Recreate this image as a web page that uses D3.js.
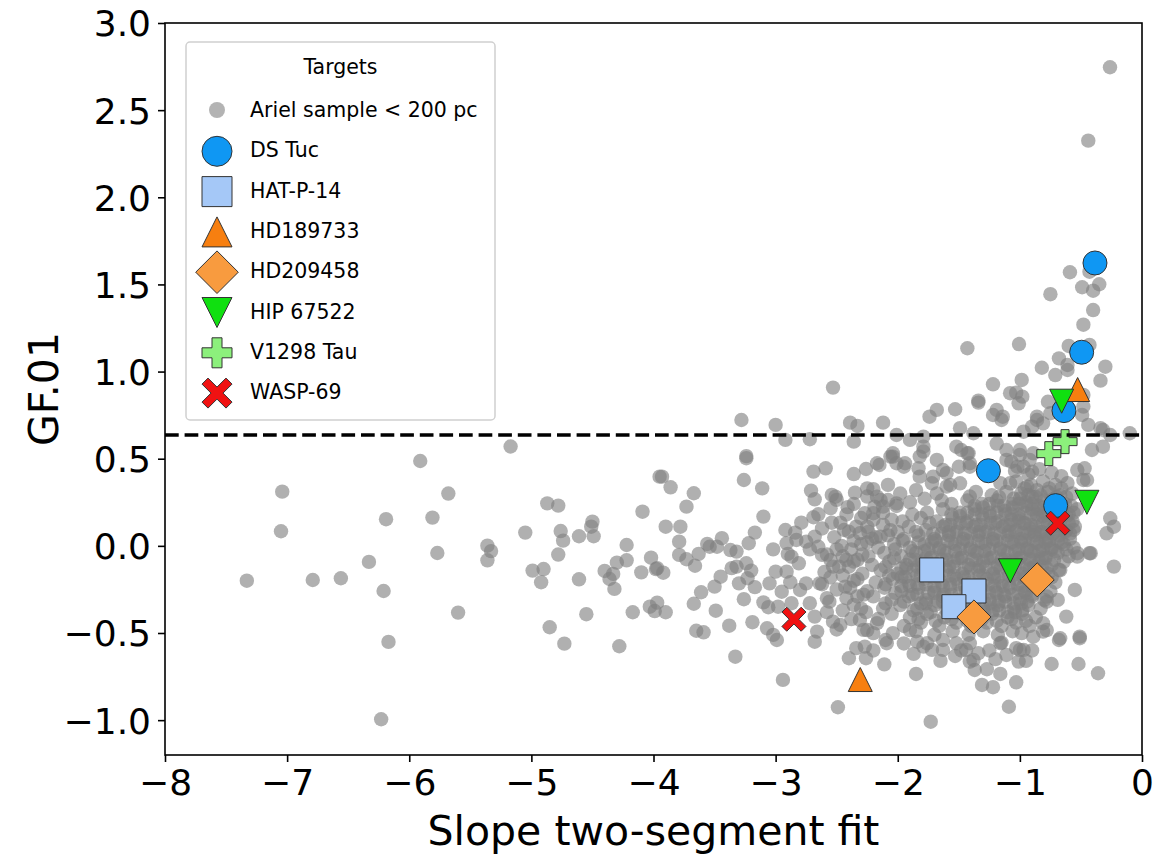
<!DOCTYPE html>
<html><head><meta charset="utf-8">
<script src="https://cdn.jsdelivr.net/npm/d3@7"></script>
<style>body{margin:0;background:#fff}</style>
</head><body><svg id="chart" width="1158" height="855"></svg>
<script>
// ---------- data ----------
const xTicks = [-8, -7, -6, -5, -4, -3, -2, -1, 0];
const yTicks = [-1.0, -0.5, 0.0, 0.5, 1.0, 1.5, 2.0, 2.5, 3.0];
const threshold = 0.636;
const xLabel = "Slope two-segment fit";
const yLabel = "GF.01";
const legendTitle = "Targets";
const sampleName = "Ariel sample < 200 pc";

// scattered Ariel sample (slope, GF.01)
const arielScattered = [
[-5.17,0.57],[-5.91,0.487],[-7.04,0.311],[-5.68,0.30],[-6.19,0.153],[-5.81,0.162],[-7.05,0.084],[-5.77,-0.041],[-6.33,-0.092],[-7.33,-0.20],[-6.79,-0.196],[-6.56,-0.186],[-6.21,-0.259],[-5.60,-0.383],[-6.17,-0.551],[-6.23,-0.995],[-5.05,0.076],[-5.36,0.001],[-5.33,-0.03],[-5.36,-0.083],[-4.87,0.244],[-4.78,0.231],[-4.76,0.085],[-4.74,0.03],[-4.78,-0.05],[-4.99,-0.142],[-4.90,-0.133],[-4.92,-0.209],[-4.50,0.139],[-4.51,0.11],[-4.49,0.055],[-4.61,0.055],[-4.61,-0.192],[-4.85,-0.467],[-4.73,-0.561],[-4.55,-0.392],[-4.40,-0.144],[-4.33,-0.161],[-4.36,-0.19],[-4.32,-0.247],[-4.30,-0.096],[-4.22,0.005],[-4.22,-0.083],[-4.09,0.196],[-4.02,-0.068],[-4.10,-0.152],[-3.98,-0.133],[-4.17,-0.381],[-4.28,-0.576],[-4.03,-0.349],[-3.99,-0.374],[-3.97,-0.326],[-3.95,0.397],
[-3.90,-0.381],[-3.67,-0.332],[-3.61,-0.266],[-3.50,-0.234],[-3.45,-0.177],[-3.49,-0.372],[-3.65,-0.487],[-3.59,-0.496],[-3.38,-0.458],[-3.33,-0.636],[-3.26,-0.306],[-3.30,-0.215],[-3.23,-0.186],[-3.17,-0.237],[-3.19,-0.438],[-3.10,-0.324],[-3.05,-0.215],[-3.06,-0.352],[-2.98,-0.349],[-2.95,-0.263],[-2.88,-0.209],[-2.87,-0.329],[-3.07,-0.473],[-3.02,-0.511],[-2.99,-0.54],[-2.94,-0.769],[-2.80,-0.253],[-2.75,-0.215],[-2.72,-0.329],[-2.68,-0.406],[-2.66,-0.492],[-2.68,-0.55],[-2.64,-0.215],[-2.56,-0.32],[-2.53,-0.435],[-2.47,-0.454],[-2.49,-0.926],[-2.43,-0.234],[-2.36,-0.339],[-2.31,-0.425],[-2.34,-0.587],[-2.27,-0.578],[-2.40,-0.645],[-2.26,-0.645],[-2.11,-0.68],[-2.28,-0.482],[-2.20,-0.501],[-2.17,-0.444],
[-3.28,0.722],[-3.00,0.694],[-2.92,0.608],[-2.72,0.612],[-2.39,0.707],[-2.33,0.688],[-2.12,0.707],[-2.36,0.598],[-3.24,0.515],[-3.24,0.503],[-3.26,0.378],[-3.11,0.33],[-3.10,0.168],[-3.93,0.397],[-3.86,0.336],[-3.67,0.302],[-3.73,0.225],[-3.90,0.11],[-3.78,0.11],[-3.79,0.024],[-3.79,-0.052],[-3.73,-0.077],[-3.97,-0.128],[-3.92,-0.154],[-3.66,-0.114],[-3.63,-0.046],[-3.56,0.011],[-3.54,-0.005],[-3.44,0.044],[-3.48,-0.005],[-3.37,-0.024],[-3.32,-0.033],[-3.36,-0.128],[-3.32,-0.119],[-3.24,-0.100],[-3.20,-0.142],[-3.22,0.015],[-3.17,0.076],[-3.02,-0.02],[-2.92,0.091],[-2.91,0.015],[-2.90,-0.046],[-2.87,-0.062],[-2.81,-0.1],[-3.0,-0.148],[-2.91,-0.148],[-2.84,0.076],[-2.79,0.133],[-2.83,0.034],[-2.75,0.024],[-2.68,0.053],[-2.72,-0.02],[-2.65,-0.005],[-2.62,-0.052],[-2.55,-0.081],[-2.53,-0.119],[-2.71,0.317],[-2.68,0.267],[-2.69,0.164],[-2.65,0.181],[-2.69,0.426],[-2.59,0.445],[-2.54,0.292],[-2.51,0.282],[-2.55,0.216],[-2.50,0.264],[-2.41,0.222],[-2.54,0.133],[-2.47,0.133],[-2.44,0.091],[-2.40,0.081],[-2.34,0.110],[-2.31,0.072],[-2.36,0.412],[-2.26,0.441],[-2.15,0.464],[-2.06,0.512],[-2.01,0.474],[-2.35,0.305],[-2.25,0.33],[-2.20,0.325],[-2.17,0.282],[-2.27,0.187],[-2.19,0.225],[-2.14,0.263],[-2.08,0.263],[-2.01,0.229],
[-2.50,-0.02],[-2.45,-0.06],[-2.40,-0.12],[-2.38,-0.02],[-2.33,-0.08],[-2.45,-0.17],[-2.36,-0.2],[-2.5,-0.25],[-2.28,-0.28],[-2.6,-0.15],[-2.58,-0.3],[-2.42,-0.3],[-2.3,-0.36],[-2.2,0.15],[-2.12,0.12],[-2.18,0.05],[-2.25,0.02],
[-2.58,-0.05],[-2.52,0.05],[-2.46,0.0],[-2.42,-0.08],[-2.36,0.03],[-2.29,-0.05],[-2.62,-0.22],[-2.55,-0.18],[-2.48,-0.12],[-2.39,-0.24],[-2.33,-0.29],[-2.45,-0.37],[-2.38,-0.42],[-2.26,-0.38],[-2.16,-0.42],[-2.1,-0.33],[-2.3,0.16],[-2.24,0.08],[-2.42,0.18],[-2.36,0.24],[-2.12,0.19],[-2.05,0.15],[-2.0,0.08],[-2.08,0.35],[-1.98,0.3],[-1.9,0.25],[-1.85,0.32],[-1.78,0.27],[-1.68,0.3],[-1.64,0.26],[-1.88,0.18],[-2.62,0.1],[-2.58,-0.38],[-2.5,-0.48],[-2.2,-0.6],[-2.1,-0.54],[-1.95,-0.56],[-1.87,-0.62],[-1.65,-0.66],[-1.48,-0.6],[-1.25,-0.6],[-1.2,-0.65],[-0.95,-0.66],[-0.9,-0.6],
[-1.68,0.78],[-1.53,0.784],[-1.34,0.822],[-1.19,0.78],[-1.15,0.722],[-1.22,0.751],[-1.74,0.741],[-1.49,0.675],[-1.38,0.646],[-1.01,0.818],[-0.86,0.741],[-0.81,0.703],[-0.34,0.675],[-0.26,0.636],[-0.10,0.646],[-2.04,0.531],[-1.94,0.474],[-1.79,0.541],[-1.83,0.445],[-1.71,0.397],[-1.63,0.435],[-1.57,0.349],[-1.48,0.55],[-1.42,0.531],[-1.41,0.474],[-1.50,0.454],[-1.11,0.55],[-1.07,0.483],[-1.00,0.522],[-0.97,0.454],[-0.92,0.493],[-0.90,0.426],[-0.47,0.445],[-0.48,0.378],[-0.41,0.55],[-0.32,0.569],[-0.26,0.158],[-0.23,0.11],[-0.29,0.072],[-0.43,-0.042],[-0.53,-0.042],[-0.23,-0.119],
[-0.262,2.746],[-0.44,2.325],[-0.59,1.57],[-0.43,1.573],[-0.75,1.444],[-0.49,1.484],[-0.40,1.464],[-0.35,1.501],[-0.40,1.353],[-0.48,1.269],[-1.007,1.158],[-1.43,1.134],[-0.60,1.147],[-0.43,1.153],[-0.30,1.028],[-0.34,0.948],[-0.68,1.076],[-0.61,1.038],[-0.61,1.009],[-0.71,0.98],[-0.82,1.022],[-1.22,0.927],[-0.985,0.952],[-1.08,0.876],[-1.03,0.879],[-0.98,0.856],[-1.34,0.833],[-2.53,0.908],[-0.77,0.827],[-0.48,0.866],[-0.48,0.799],
[-0.75,0.761],[-0.86,0.722],[-0.90,0.684],[-0.97,0.655],[-0.49,0.751],[-0.44,0.694],[-0.32,0.665],[-2.01,0.636],[-1.90,0.608],[-1.79,0.627],[-1.14,0.741],
[-0.55,-0.253],[-0.67,-0.53],[-0.51,-0.53],[-0.74,-0.678],[-0.52,-0.678],[-0.36,-0.731],[-0.81,-0.444],[-0.81,-0.492],[-0.78,-0.32],[-0.69,-0.31],[-0.985,-0.501],[-0.97,-0.597],[-1.03,-0.587],[-1.01,-0.664],[-1.11,-0.626],[-1.15,-0.555],[-1.16,-0.735],[-1.03,-0.783],[-1.09,-0.923],[-1.27,-0.708],[-1.31,-0.798],[-1.22,-0.811],[-1.37,-0.712],[-1.41,-0.664],[-1.38,-0.655],[-1.53,-0.632],[-1.85,-0.735],[-1.73,-1.009],[-1.34,-0.616],[-1.44,-0.597],[-1.52,-0.559],[-1.63,-0.54],[-1.79,-0.578],[-1.72,-0.597],[-1.84,-0.55],[-2.04,-0.501],
[-1.79,0.569],[-1.82,0.512],[-1.68,0.493],[-1.60,0.417],[-1.82,0.397],[-1.95,0.454],[-2.17,0.474],[-2.04,0.512],[-1.72,0.359],[-1.60,0.34],[-1.49,0.359],[-1.41,0.283],[-1.52,0.569],[-1.43,0.531],[-1.41,0.454],[-1.19,0.587],[-1.11,0.493],[-1.02,0.454],[-1.00,0.55],[-0.89,0.531],[-1.08,0.359],[-0.94,0.34],
[-2.25,0.283],[-2.20,0.187],[-2.12,0.225],[-2.01,0.244],[-2.25,0.11],[-2.14,0.053],
[-0.53,0.435],[-0.45,0.378],[-0.56,0.091],[-0.42,-0.042],[-0.53,-0.062],[-0.68,-0.138],[-0.78,-0.291],[-0.62,-0.406],[-0.78,-0.483],[-0.68,-0.54],[-0.51,-0.521],
[-2.25,-0.483],[-2.09,-0.559],[-1.90,-0.483],[-1.76,-0.559],[-1.63,-0.597],[-1.41,-0.559],[-1.16,-0.559],[-1.00,-0.597],[-0.89,-0.521]
];

// dense core of the Ariel sample (estimated; dots overlap heavily)
const arielCore = [
[-1.04,0.43],[-0.93,0.41],[-0.84,0.44],[-0.74,0.42],[-0.66,0.40],
[-1.16,0.36],[-1.03,0.37],[-0.91,0.35],[-0.81,0.37],[-0.71,0.35],[-0.61,0.36],
[-1.36,0.31],[-1.23,0.29],[-1.11,0.31],[-0.99,0.30],[-0.87,0.28],[-0.77,0.31],[-0.67,0.29],[-0.57,0.30],
[-1.56,0.24],[-1.43,0.26],[-1.31,0.24],[-1.19,0.26],[-1.06,0.24],[-0.95,0.25],[-0.85,0.23],[-0.74,0.26],[-0.63,0.24],
[-1.76,0.19],[-1.63,0.21],[-1.49,0.19],[-1.37,0.21],[-1.25,0.19],[-1.12,0.20],[-1.01,0.18],[-0.90,0.21],[-0.80,0.19],[-0.70,0.20],[-0.60,0.18],[-0.53,0.21],
[-1.96,0.14],[-1.81,0.16],[-1.68,0.14],[-1.55,0.16],[-1.43,0.14],[-1.30,0.16],[-1.18,0.14],[-1.07,0.15],[-0.96,0.13],[-0.86,0.16],[-0.76,0.14],[-0.66,0.16],[-0.57,0.14],
[-2.06,0.09],[-1.91,0.11],[-1.77,0.09],[-1.63,0.11],[-1.51,0.09],[-1.38,0.11],[-1.26,0.09],[-1.14,0.11],[-1.03,0.09],[-0.92,0.10],[-0.82,0.08],[-0.72,0.11],[-0.62,0.09],[-0.55,0.11],
[-2.21,0.04],[-2.08,0.06],[-1.95,0.04],[-1.83,0.06],[-1.70,0.04],[-1.58,0.06],[-1.46,0.04],[-1.34,0.06],[-1.22,0.04],[-1.10,0.06],[-0.99,0.04],[-0.88,0.06],[-0.78,0.04],[-0.68,0.06],[-0.59,0.04],
[-2.30,0.01],[-2.16,-0.01],[-2.03,0.01],[-1.90,-0.01],[-1.78,0.01],[-1.66,-0.01],[-1.53,0.01],[-1.40,-0.01],[-1.28,0.01],[-1.16,-0.01],[-1.05,0.01],[-0.94,-0.01],[-0.84,0.01],[-0.74,-0.01],[-0.64,0.01],[-0.56,-0.01],
[-2.24,-0.06],[-2.11,-0.04],[-1.97,-0.06],[-1.85,-0.04],[-1.72,-0.06],[-1.60,-0.04],[-1.47,-0.06],[-1.35,-0.04],[-1.22,-0.06],[-1.10,-0.04],[-0.99,-0.06],[-0.89,-0.04],[-0.79,-0.06],[-0.69,-0.04],[-0.60,-0.06],
[-2.36,-0.09],[-2.21,-0.11],[-2.07,-0.09],[-1.93,-0.11],[-1.80,-0.09],[-1.67,-0.11],[-1.54,-0.09],[-1.42,-0.11],[-1.30,-0.09],[-1.18,-0.11],[-1.06,-0.09],[-0.95,-0.11],[-0.84,-0.09],[-0.74,-0.11],[-0.64,-0.09],
[-2.29,-0.16],[-2.14,-0.14],[-2.00,-0.16],[-1.87,-0.14],[-1.74,-0.16],[-1.60,-0.14],[-1.47,-0.16],[-1.34,-0.14],[-1.22,-0.16],[-1.10,-0.14],[-0.98,-0.16],[-0.87,-0.14],[-0.77,-0.16],[-0.67,-0.14],
[-2.33,-0.19],[-2.18,-0.21],[-2.04,-0.19],[-1.91,-0.21],[-1.78,-0.19],[-1.64,-0.21],[-1.52,-0.19],[-1.40,-0.21],[-1.27,-0.19],[-1.15,-0.21],[-1.03,-0.19],[-0.92,-0.21],[-0.81,-0.19],[-0.71,-0.21],
[-2.25,-0.26],[-2.11,-0.24],[-1.97,-0.26],[-1.83,-0.24],[-1.70,-0.26],[-1.57,-0.24],[-1.44,-0.26],[-1.32,-0.24],[-1.20,-0.26],[-1.08,-0.24],[-0.96,-0.26],[-0.85,-0.24],[-0.75,-0.26],
[-2.20,-0.29],[-2.05,-0.31],[-1.91,-0.29],[-1.77,-0.31],[-1.63,-0.29],[-1.50,-0.31],[-1.37,-0.29],[-1.25,-0.31],[-1.12,-0.29],[-1.00,-0.31],[-0.90,-0.29],[-0.80,-0.31],
[-2.12,-0.36],[-1.98,-0.34],[-1.84,-0.36],[-1.70,-0.34],[-1.56,-0.36],[-1.43,-0.34],[-1.30,-0.36],[-1.18,-0.34],[-1.05,-0.36],[-0.93,-0.34],[-0.83,-0.36],
[-2.05,-0.39],[-1.90,-0.41],[-1.76,-0.39],[-1.62,-0.41],[-1.48,-0.39],[-1.36,-0.41],[-1.23,-0.39],[-1.10,-0.41],[-0.98,-0.39],[-0.87,-0.41],
[-1.95,-0.46],[-1.81,-0.44],[-1.66,-0.46],[-1.52,-0.44],[-1.40,-0.46],[-1.27,-0.44],[-1.15,-0.46],[-1.03,-0.44],[-0.92,-0.46],
[-1.85,-0.49],[-1.70,-0.51],[-1.55,-0.49],[-1.42,-0.51],[-1.30,-0.49],[-1.18,-0.51],[-1.06,-0.49],
[-1.00,0.27],[-0.90,0.28],[-0.80,0.26],[-0.70,0.28],
[-1.30,0.22],[-1.18,0.23],[-1.06,0.22],[-0.95,0.23],[-0.85,0.21],[-0.75,0.23],[-0.65,0.22],
[-1.49,0.17],[-1.37,0.18],[-1.24,0.17],[-1.12,0.18],[-1.01,0.16],[-0.91,0.18],[-0.81,0.17],[-0.71,0.18],[-0.62,0.17],
[-1.57,0.12],[-1.44,0.13],[-1.32,0.12],[-1.20,0.13],[-1.08,0.12],[-0.97,0.13],[-0.87,0.11],[-0.77,0.13],[-0.67,0.12],
[-1.64,0.07],[-1.52,0.08],[-1.40,0.07],[-1.28,0.08],[-1.16,0.07],[-1.04,0.08],[-0.93,0.07],[-0.83,0.08],[-0.73,0.07],[-0.63,0.08],
[-1.72,0.02],[-1.59,0.03],[-1.47,0.02],[-1.34,0.03],[-1.22,0.02],[-1.10,0.03],[-0.99,0.02],[-0.89,0.03],[-0.79,0.02],[-0.69,0.03],
[-1.78,-0.03],[-1.66,-0.02],[-1.53,-0.03],[-1.41,-0.02],[-1.29,-0.03],[-1.16,-0.02],[-1.04,-0.03],[-0.94,-0.02],[-0.84,-0.03],[-0.74,-0.02],
[-1.86,-0.08],[-1.73,-0.07],[-1.60,-0.08],[-1.48,-0.07],[-1.36,-0.08],[-1.24,-0.07],[-1.12,-0.08],[-1.00,-0.07],[-0.89,-0.08],[-0.79,-0.07],
[-1.93,-0.13],[-1.80,-0.12],[-1.67,-0.13],[-1.54,-0.12],[-1.40,-0.13],[-1.28,-0.12],[-1.16,-0.13],[-1.04,-0.12],[-0.92,-0.13],[-0.82,-0.12],
[-1.97,-0.18],[-1.84,-0.17],[-1.71,-0.18],[-1.58,-0.17],[-1.46,-0.18],[-1.33,-0.17],[-1.21,-0.18],[-1.09,-0.17],[-0.97,-0.18],[-0.86,-0.17],
[-1.90,-0.23],[-1.77,-0.22],[-1.63,-0.23],[-1.50,-0.22],[-1.38,-0.23],[-1.26,-0.22],[-1.14,-0.23],[-1.02,-0.22],[-0.90,-0.23],
[-1.84,-0.28],[-1.70,-0.27],[-1.56,-0.28],[-1.43,-0.27],[-1.31,-0.28],[-1.19,-0.27],[-1.06,-0.28],[-0.95,-0.27],
[-1.77,-0.33],[-1.63,-0.32],[-1.49,-0.33],[-1.37,-0.32],[-1.24,-0.33],[-1.12,-0.32],[-0.99,-0.33],
[-1.55,-0.38],[-1.42,-0.37],[-1.29,-0.38],[-1.17,-0.37],[-1.04,-0.38],
[-0.96,0.33],[-0.86,0.32],[-0.76,0.33],[-0.66,0.33],
[-1.17,0.28],[-1.05,0.27],[-0.93,0.29],[-0.83,0.29],[-0.72,0.27],[-0.62,0.28],
[-1.37,0.23],[-1.25,0.24],[-1.13,0.23],[-1.01,0.24],[-0.90,0.24],[-0.80,0.22],[-0.69,0.24],[-0.58,0.23],
[-1.56,0.18],[-1.43,0.19],[-1.31,0.18],[-1.19,0.19],[-1.07,0.18],[-0.96,0.19],[-0.86,0.18],[-0.76,0.19],[-0.65,0.18],[-0.56,0.19],
[-1.74,0.13],[-1.61,0.12],[-1.49,0.13],[-1.36,0.12],[-1.24,0.13],[-1.12,0.12],[-1.01,0.14],[-0.91,0.12],[-0.81,0.13],[-0.71,0.12],[-0.60,0.13],
[-1.85,0.08],[-1.71,0.07],[-1.58,0.08],[-1.45,0.07],[-1.33,0.08],[-1.21,0.07],[-1.09,0.08],[-0.98,0.07],[-0.88,0.08],[-0.78,0.07],[-0.68,0.09],[-0.59,0.07],
[-1.96,0.03],[-1.83,0.02],[-1.69,0.03],[-1.56,0.02],[-1.43,0.03],[-1.31,0.02],[-1.19,0.03],[-1.07,0.02],[-0.96,0.03],[-0.86,0.02],[-0.76,0.03],[-0.66,0.02],
[-2.02,-0.02],[-1.88,-0.03],[-1.75,-0.02],[-1.62,-0.03],[-1.49,-0.02],[-1.37,-0.03],[-1.25,-0.02],[-1.13,-0.03],[-1.01,-0.02],[-0.91,-0.03],[-0.81,-0.02],[-0.71,-0.03],[-0.62,-0.02],
[-2.03,-0.07],[-1.90,-0.08],[-1.77,-0.07],[-1.64,-0.08],[-1.51,-0.07],[-1.39,-0.08],[-1.27,-0.07],[-1.15,-0.08],[-1.03,-0.07],[-0.92,-0.08],[-0.82,-0.07],[-0.72,-0.08],
[-2.10,-0.12],[-1.97,-0.13],[-1.84,-0.12],[-1.71,-0.13],[-1.58,-0.12],[-1.45,-0.13],[-1.33,-0.12],[-1.21,-0.13],[-1.09,-0.12],[-0.98,-0.13],[-0.88,-0.12],[-0.78,-0.13],
[-2.07,-0.17],[-1.94,-0.18],[-1.81,-0.17],[-1.67,-0.18],[-1.54,-0.17],[-1.42,-0.18],[-1.30,-0.17],[-1.18,-0.18],[-1.06,-0.17],[-0.95,-0.18],[-0.84,-0.17],[-0.74,-0.18],
[-2.10,-0.22],[-1.97,-0.23],[-1.84,-0.22],[-1.70,-0.23],[-1.57,-0.22],[-1.45,-0.23],[-1.33,-0.22],[-1.21,-0.23],[-1.09,-0.22],[-0.97,-0.23],[-0.86,-0.22],
[-2.02,-0.27],[-1.88,-0.28],[-1.75,-0.27],[-1.62,-0.28],[-1.49,-0.27],[-1.37,-0.28],[-1.25,-0.27],[-1.13,-0.28],[-1.01,-0.27],[-0.90,-0.28],
[-1.95,-0.32],[-1.81,-0.33],[-1.67,-0.32],[-1.54,-0.33],[-1.41,-0.32],[-1.29,-0.33],[-1.17,-0.32],[-1.05,-0.33],[-0.94,-0.32],
[-1.87,-0.37],[-1.73,-0.38],[-1.60,-0.37],[-1.35,-0.38],[-1.22,-0.37],[-1.10,-0.38],[-0.98,-0.37],
[-1.83,-0.42],[-1.69,-0.43],[-1.56,-0.42],[-1.43,-0.43],[-1.31,-0.42],[-1.19,-0.43],[-1.07,-0.42],[-0.95,-0.43]
];

// highlighted targets (slope, GF.01)
const dsTuc    = [[-0.385,1.623],[-0.494,1.111],[-0.639,0.776],[-1.258,0.431],[-0.707,0.231]];
const hatP14   = [[-1.722,-0.138],[-1.376,-0.259],[-1.540,-0.349]];
const hd189733 = [[-2.307,-0.767],[-0.527,0.897]];
const hd209458 = [[-1.376,-0.408],[-0.858,-0.195]];
const hip67522 = [[-0.658,0.830],[-0.451,0.250],[-1.078,-0.143]];
const v1298Tau = [[-0.763,0.529],[-0.630,0.598]];
const wasp69   = [[-2.850,-0.421],[-0.689,0.130]];

const targetNames  = ["DS Tuc","HAT-P-14","HD189733","HD209458","HIP 67522","V1298 Tau","WASP-69"];
const targetData   = [dsTuc, hatP14, hd189733, hd209458, hip67522, v1298Tau, wasp69];
const targetShapes = ["circle","square","triUp","diamond","triDown","plus","cross"];
const targetColors = ["#0f97f3","#a5c8f7","#f77f10","#f89b3f","#10e010","#8cf07c","#f01212"];

// ---------- layout ----------
const W = 1158, H = 855;
const plot = {left: 165, right: 1142, top: 23, bottom: 755};
const FONT = "DejaVu Sans, Verdana, sans-serif";
const svg = d3.select("#chart");
svg.append("rect").attr("width", W).attr("height", H).attr("fill", "#fff");

const x = d3.scaleLinear().domain([-8, 0]).range([plot.left, plot.right]);
const y = d3.scaleLinear().domain([-1.2, 3.0]).range([plot.bottom, plot.top]);

function markerPath(shape, s) {
  const a = s / 2;
  switch (shape) {
    case "circle": return d3.arc()({innerRadius: 0, outerRadius: a, startAngle: 0, endAngle: 2 * Math.PI});
    case "square": return `M${-a},${-a}H${a}V${a}H${-a}Z`;
    case "triUp": return `M0,${-a}L${a},${a}L${-a},${a}Z`;
    case "triDown": return `M0,${a}L${a},${-a}L${-a},${-a}Z`;
    case "diamond": { const d = a * 1.42; return `M0,${-d}L${d},0L0,${d}L${-d},0Z`; }
    case "plus": { const b = s / 6; return `M${-b},${-a}H${b}V${-b}H${a}V${b}H${b}V${a}H${-b}V${b}H${-a}V${-b}H${-b}Z`; }
    case "cross": {
      const p = [[0,-0.2],[0.3,-0.5],[0.5,-0.3],[0.2,0],[0.5,0.3],[0.3,0.5],[0,0.2],[-0.3,0.5],[-0.5,0.3],[-0.2,0],[-0.5,-0.3],[-0.3,-0.5]];
      return "M" + p.map(q => `${q[0]*s},${q[1]*s}`).join("L") + "Z";
    }
  }
}

// ---------- scatter ----------
const ariel = arielScattered.concat(arielCore);
const gDots = svg.append("g");
gDots.selectAll("circle").data(ariel).join("circle")
  .attr("cx", d => x(d[0])).attr("cy", d => y(d[1])).attr("r", 7.2)
  .attr("fill", "#808080").attr("fill-opacity", 0.62);

const gT = svg.append("g");
targetData.forEach((pts, i) => {
  gT.selectAll(null).data(pts).join("path")
    .attr("transform", d => `translate(${x(d[0])},${y(d[1])})`)
    .attr("d", markerPath(targetShapes[i], 24))
    .attr("fill", targetColors[i]).attr("stroke", "#333").attr("stroke-width", 1);
});

// threshold line
svg.append("line")
  .attr("x1", plot.left).attr("x2", plot.right)
  .attr("y1", y(threshold)).attr("y2", y(threshold))
  .attr("stroke", "#000").attr("stroke-width", 3.7).attr("stroke-dasharray", "13.7,5.9");

// ---------- axes ----------
const fmtMinus = s => s.replace("-", "\u2212");
const xAxis = d3.axisBottom(x).tickValues(xTicks).tickSize(7).tickPadding(7)
  .tickFormat(d => fmtMinus(d3.format("d")(d)));
const yAxis = d3.axisLeft(y).tickValues(yTicks).tickSize(7).tickPadding(7)
  .tickFormat(d => fmtMinus(d3.format(".1f")(d)));

const gx = svg.append("g").attr("transform", `translate(0,${plot.bottom})`).call(xAxis);
const gy = svg.append("g").attr("transform", `translate(${plot.left},0)`).call(yAxis);
[gx, gy].forEach(g => {
  g.select(".domain").remove();
  g.selectAll(".tick line").attr("stroke", "#000").attr("stroke-width", 1.6);
  g.selectAll(".tick text").attr("fill", "#000").attr("font-family", FONT).attr("font-size", 36);
});
gx.selectAll(".tick text").attr("dy", "0.73em");
gy.selectAll(".tick text").attr("dy", "0.36em");

// frame
svg.append("rect")
  .attr("x", plot.left).attr("y", plot.top)
  .attr("width", plot.right - plot.left).attr("height", plot.bottom - plot.top)
  .attr("fill", "none").attr("stroke", "#000").attr("stroke-width", 1.6);

// axis labels
svg.append("text").attr("x", (plot.left + plot.right) / 2).attr("y", 845)
  .attr("text-anchor", "middle").attr("font-family", FONT).attr("font-size", 41).attr("fill", "#000")
  .text(xLabel);
svg.append("text").attr("transform", `translate(58,${(plot.top + plot.bottom) / 2}) rotate(-90)`)
  .attr("text-anchor", "middle").attr("font-family", FONT).attr("font-size", 41).attr("fill", "#000")
  .text(yLabel);

// ---------- legend ----------
const lg = svg.append("g");
lg.append("rect").attr("x", 186).attr("y", 42).attr("width", 309).attr("height", 378)
  .attr("rx", 4).attr("fill", "#fff").attr("fill-opacity", 0.85)
  .attr("stroke", "#d0d0d0").attr("stroke-width", 1.5);
lg.append("text").attr("x", 340.5).attr("y", 74).attr("text-anchor", "middle")
  .attr("font-family", FONT).attr("font-size", 20.5).attr("fill", "#000").text(legendTitle);

const rowY = i => 110 + i * 40.3;
lg.append("circle").attr("cx", 217).attr("cy", rowY(0)).attr("r", 8)
  .attr("fill", "#808080").attr("fill-opacity", 0.6);
lg.append("text").attr("x", 250).attr("y", rowY(0) + 6.5)
  .attr("font-family", FONT).attr("font-size", 20.5).attr("fill", "#000").text(sampleName);

targetNames.forEach((name, i) => {
  const cy = rowY(i + 1) + 1;
  lg.append("path").attr("transform", `translate(217,${cy})`)
    .attr("d", markerPath(targetShapes[i], 30))
    .attr("fill", targetColors[i]).attr("stroke", "#333").attr("stroke-width", 1);
  lg.append("text").attr("x", 250).attr("y", cy + 6)
    .attr("font-family", FONT).attr("font-size", 20.5).attr("fill", "#000").text(name);
});
</script>
</body></html>
